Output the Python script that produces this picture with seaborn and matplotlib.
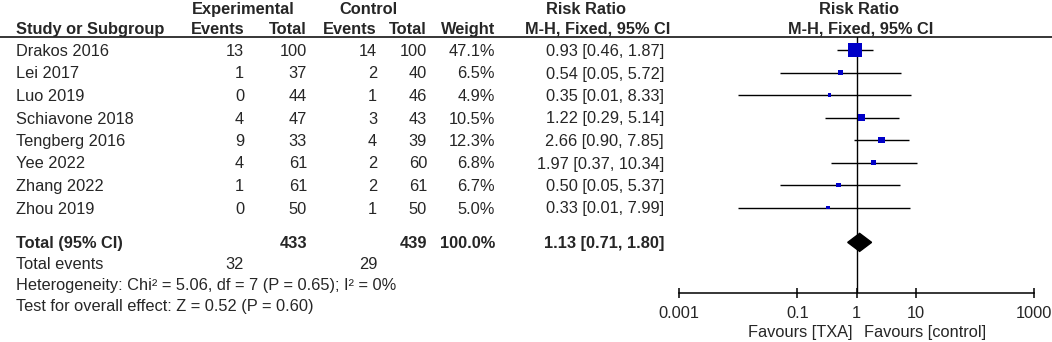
import numpy as np
import pandas as pd
import seaborn as sns
import matplotlib.pyplot as plt
from matplotlib.ticker import NullLocator

# Study level data
studies = ['Drakos 2016', 'Lei 2017', 'Luo 2019', 'Schiavone 2018',
           'Tengberg 2016', 'Yee 2022', 'Zhang 2022', 'Zhou 2019']
exp_events = [13, 1, 0, 4, 9, 4, 1, 0]
exp_total = [100, 37, 44, 47, 33, 61, 61, 50]
ctrl_events = [14, 2, 1, 3, 4, 2, 2, 1]
ctrl_total = [100, 40, 46, 43, 39, 60, 61, 50]
weight = [47.1, 6.5, 4.9, 10.5, 12.3, 6.8, 6.7, 5.0]
rr = [0.93, 0.54, 0.35, 1.22, 2.66, 1.97, 0.50, 0.33]
rr_lo = [0.46, 0.05, 0.01, 0.29, 0.90, 0.37, 0.05, 0.01]
rr_hi = [1.87, 5.72, 8.33, 5.14, 7.85, 10.34, 5.37, 7.99]

# Pooled result
total_exp = 433
total_ctrl = 439
total_weight = 100.0
total_events_exp = 32
total_events_ctrl = 29
pooled = [0.71, 1.13, 1.80]
heterogeneity = 'Heterogeneity: Chi² = 5.06, df = 7 (P = 0.65); I² = 0%'
overall = 'Test for overall effect: Z = 0.52 (P = 0.60)'

tick_values = [0.001, 0.1, 1, 10, 1000]
tick_labels = ['0.001', '0.1', '1', '10', '1000']

df = pd.DataFrame({'study': studies, 'rr': rr, 'lo': rr_lo, 'hi': rr_hi,
                   'weight': weight, 'row': np.arange(len(studies))})

sns.set_theme(style='white')
plt.rcParams['font.family'] = ['Liberation Sans', 'DejaVu Sans']
FS = 11.8

W, H = 1052, 342
fig = plt.figure(figsize=(W / 100, H / 100), dpi=100)

# text layer in pixel coordinates
tx = fig.add_axes([0, 0, 1, 1])
tx.set_xlim(0, W)
tx.set_ylim(H, 0)
tx.axis('off')

# forest panel: rows at 50 + 22.5*i px, header line at 37, axis at 293
top_px, bot_px, row0, step = 37, 293, 50, 22.5
x0_px, x1_px = 679, 1034
fx = fig.add_axes([x0_px / W, 1 - bot_px / H, (x1_px - x0_px) / W, (bot_px - top_px) / H])
fx.set_xscale('log')
fx.set_xlim(0.001, 1000)
fx.set_ylim((bot_px - row0) / step, (top_px - row0) / step)
fx.patch.set_alpha(0)

total_row = 8.55
total_px = row0 + step * total_row

fx.hlines(df['row'], df['lo'], df['hi'], color='black', lw=1.0, zorder=2)
sns.scatterplot(data=df, x='rr', y='row', size='weight', sizes=(8, 105),
                size_norm=(4.9, 47.1), marker='s', color='#0000C8',
                linewidth=0, legend=False, ax=fx, zorder=3)
lo, est, hi = pooled
fx.fill([lo, est, hi, est], [total_row, total_row - 0.4, total_row, total_row + 0.4],
        color='black', zorder=3)
fx.axvline(1, color='black', lw=1.0, zorder=1)

for s in ['left', 'right', 'top']:
    fx.spines[s].set_visible(False)
fx.spines['bottom'].set_color('black')
fx.spines['bottom'].set_linewidth(1.1)
fx.set_xticks(tick_values)
fx.set_xticklabels(tick_labels)
fx.xaxis.set_minor_locator(NullLocator())
fx.tick_params(axis='x', direction='inout', length=7.5, width=1.1, color='black',
               labelsize=FS, pad=5.5, bottom=True)
fx.set_yticks([])
fx.set_xlabel('')
fx.set_ylabel('')

# header
tx.axhline(top_px, color='black', lw=1.1)
hb = dict(fontsize=FS, fontweight='bold', va='baseline')
tx.text(243, 14, 'Experimental', ha='center', **hb)
tx.text(368, 14, 'Control', ha='center', **hb)
tx.text(586, 14, 'Risk Ratio', ha='center', **hb)
tx.text(859, 14, 'Risk Ratio', ha='center', **hb)
tx.text(16, 34, 'Study or Subgroup', ha='left', **hb)
tx.text(245, 34, 'Events', ha='right', **hb)
tx.text(307, 34, 'Total', ha='right', **hb)
tx.text(377, 34, 'Events', ha='right', **hb)
tx.text(427, 34, 'Total', ha='right', **hb)
tx.text(495, 34, 'Weight', ha='right', **hb)
tx.text(598, 34, 'M-H, Fixed, 95% CI', ha='center', **hb)
tx.text(861, 34, 'M-H, Fixed, 95% CI', ha='center', **hb)

# study rows
nb = dict(fontsize=FS, va='baseline')
for i in range(len(studies)):
    y = row0 + step * i + 6
    tx.text(16, y, studies[i], ha='left', **nb)
    tx.text(244, y, str(exp_events[i]), ha='right', **nb)
    tx.text(307, y, str(exp_total[i]), ha='right', **nb)
    tx.text(377, y, str(ctrl_events[i]), ha='right', **nb)
    tx.text(427, y, str(ctrl_total[i]), ha='right', **nb)
    tx.text(495, y, f'{weight[i]:.1f}%', ha='right', **nb)
    tx.text(664, y, f'{rr[i]:.2f} [{rr_lo[i]:.2f}, {rr_hi[i]:.2f}]', ha='right', **nb)

# totals
yt = total_px + 6
tx.text(16, yt, 'Total (95% CI)', ha='left', **hb)
tx.text(307, yt, str(total_exp), ha='right', **hb)
tx.text(427, yt, str(total_ctrl), ha='right', **hb)
tx.text(495, yt, f'{total_weight:.1f}%', ha='right', **hb)
tx.text(664, yt, f'{est:.2f} [{lo:.2f}, {hi:.2f}]', ha='right', **hb)
tx.text(16, yt + 21, 'Total events', ha='left', **nb)
tx.text(244, yt + 21, str(total_events_exp), ha='right', **nb)
tx.text(377, yt + 21, str(total_events_ctrl), ha='right', **nb)
tx.text(16, yt + 41.5, heterogeneity, ha='left', **nb)
tx.text(16, yt + 62.5, overall, ha='left', **nb)

tx.text(852, 337, 'Favours [TXA]', ha='right', **nb)
tx.text(864, 337, 'Favours [control]', ha='left', **nb)

fig.savefig('out.png', dpi=100)
